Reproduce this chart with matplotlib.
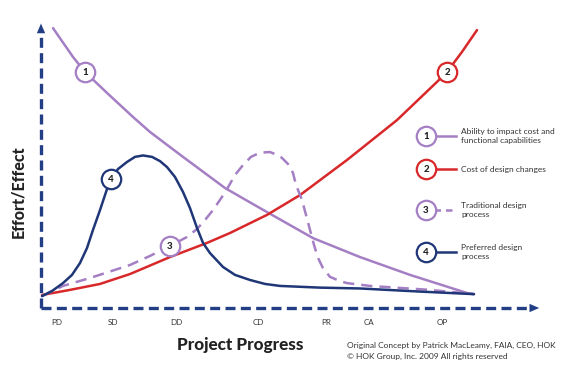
import matplotlib
matplotlib.use("Agg")
import matplotlib.pyplot as plt
from matplotlib.lines import Line2D

# ---------------- data (progress 0-100, effort 0-100) ----------------
phases = ["PD", "SD", "DD", "CD", "PR", "CA", "OP"]
phase_pos = [3.2, 14.4, 27.0, 43.4, 57.0, 65.6, 80.2]

ability_x = [2.4, 6.4, 8.8, 13.2, 18.4, 21.8, 28.4, 36.8, 43.8, 54.4, 63.8, 73.8, 85.2, 86.6]
ability_y = [98.9, 88.7, 83.4, 76.0, 67.5, 62.2, 53.4, 42.4, 35.3, 24.7, 18.0, 11.7, 5.3, 4.9]

cost_x = [0.2, 5.8, 11.8, 17.8, 25.8, 33.2, 37.8, 45.2, 51.8, 61.2, 71.2, 79.2, 81.2, 84.2, 87.2]
cost_y = [4.6, 6.4, 8.5, 12.0, 18.0, 23.0, 26.5, 32.9, 39.9, 52.3, 66.4, 79.9, 83.4, 90.5, 98.2]

trad_x = [0.2, 4.4, 9.8, 17.8, 21.8, 25.8, 29.2, 31.2, 32.8, 34.4, 35.8, 37.2, 38.8, 40.4, 42.0, 43.8,
          45.8, 47.8, 49.4, 50.4, 51.0, 52.2, 53.0, 53.8, 54.6, 55.4, 56.4, 57.8, 59.8, 61.2, 65.8,
          71.8, 77.8, 86.6]
trad_y = [4.2, 7.8, 10.6, 15.2, 18.4, 21.9, 25.1, 27.9, 31.1, 34.6, 38.2, 42.0, 47.0, 50.5, 53.4, 54.9,
          55.1, 53.7, 50.9, 47.7, 43.5, 38.2, 32.9, 27.6, 22.3, 17.7, 14.1, 11.0, 9.5, 8.8, 7.8,
          7.1, 6.4, 4.9]

pref_x = [0.2, 2.2, 4.4, 6.2, 7.8, 9.2, 10.4, 11.8, 12.8, 13.8, 15.4, 17.2, 18.8, 20.4, 22.2, 23.8,
          25.2, 26.8, 28.4, 29.8, 31.2, 32.4, 33.8, 36.4, 38.8, 41.8, 44.8, 47.8, 55.8, 63.8, 75.8, 86.6]
pref_y = [4.2, 6.0, 8.8, 11.7, 15.9, 21.2, 27.6, 34.6, 39.9, 45.2, 49.1, 51.6, 53.4, 53.9, 53.4, 51.9,
          49.8, 46.3, 41.0, 35.3, 28.3, 23.0, 19.4, 14.5, 11.7, 9.9, 8.5, 7.8, 7.2, 6.9, 5.8, 4.9]

marker_labels = ["1", "2", "3", "4"]
marker_x = [8.8, 81.2, 25.8, 14.0]
marker_y = [83.4, 83.4, 22.0, 45.6]

legend_texts = ["Ability to impact cost and\nfunctional capabilities",
                "Cost of design changes",
                "Traditional design\nprocess",
                "Preferred design\nprocess"]

# ---------------- style ----------------
PURPLE = "#a57fc4"
RED = "#d8282a"
BLUE = "#1f3677"
AXIS = "#223f86"
colors = [PURPLE, RED, PURPLE, BLUE]
styles = ["-", "-", (0, (4.5, 2.8)), "-"]
FONT = "Lato"

W, H = 575, 373
fig = plt.figure(figsize=(W / 100, H / 100), dpi=100)
fig.patch.set_facecolor("white")

def fx(px):
    return px / W

def fy(py):
    return 1 - py / H

ax = fig.add_axes([fx(41), fy(308), 500 / W, 283 / H])
ax.set_xlim(0, 100)
ax.set_ylim(0, 100)
ax.axis("off")

# axes (dashed arrows)
dash = (0, (3.0, 1.6))
ax.plot([0, 0], [0, 98.5], color=AXIS, lw=2.4, ls=dash, clip_on=False, solid_capstyle="butt")
ax.plot([0, 97.8], [0, 0], color=AXIS, lw=2.4, ls=dash, clip_on=False, solid_capstyle="butt")
ax.annotate("", xy=(0, 101.5), xytext=(0, 96), xycoords="data",
            arrowprops=dict(arrowstyle="-|>,head_length=0.7,head_width=0.3", color=AXIS, lw=0),
            annotation_clip=False)
ax.annotate("", xy=(100.2, 0), xytext=(96, 0), xycoords="data",
            arrowprops=dict(arrowstyle="-|>,head_length=0.7,head_width=0.3", color=AXIS, lw=0),
            annotation_clip=False)

# curves
series = [(ability_x, ability_y), (cost_x, cost_y), (trad_x, trad_y), (pref_x, pref_y)]
for (xs, ys), c, s in zip(series, colors, styles):
    ax.plot(xs, ys, color=c, lw=1.8, ls=s, clip_on=False, solid_joinstyle="round",
            solid_capstyle="round", dash_joinstyle="round")

# numbered circles on curves
for lab, x, y, c in zip(marker_labels, marker_x, marker_y, colors):
    ax.plot([x], [y], marker="o", ms=14, mfc="white", mec=c, mew=1.6, clip_on=False, zorder=5)
    ax.text(x, y - 0.3, lab, ha="center", va="center", fontsize=7, fontweight="black",
            family=FONT, color="#222222", zorder=6)

# phase labels
for lab, x in zip(phases, phase_pos):
    ax.text(x, -5.2, lab, ha="center", va="center", fontsize=5.8, family=FONT, color="#333333")

# legend
leg_y = [136, 169, 210, 252]
for i, (py, c, t) in enumerate(zip(leg_y, colors, legend_texts)):
    fig.add_artist(Line2D([fx(434), fx(456)], [fy(py), fy(py)], color=c, lw=1.8,
                          ls=(0, (2.6, 2.0)) if i == 2 else "-"))
    fig.add_artist(Line2D([fx(426)], [fy(py)], marker="o", ms=14, mfc="white", mec=c, mew=1.6))
    fig.text(fx(426), fy(py + 0.5), marker_labels[i], ha="center", va="center", fontsize=7,
             fontweight="black", family=FONT, color="#222222")
    fig.text(fx(461), fy(py), t, ha="left", va="center", fontsize=6.0, family=FONT,
             color="#333333", linespacing=1.25)

# axis titles
fig.text(fx(18), fy(192), "Effort/Effect", rotation=90, ha="center", va="center",
         fontsize=11.5, fontweight="black", family=FONT, color="#222222")
fig.text(fx(240), fy(345), "Project Progress", ha="center", va="center",
         fontsize=12.3, fontweight="black", family=FONT, color="#222222")

# credits
fig.text(fx(347), fy(345), "Original Concept by Patrick MacLeamy, FAIA, CEO, HOK",
         ha="left", va="center", fontsize=6.0, family=FONT, color="#333333")
fig.text(fx(347), fy(356), "\u00a9 HOK Group, Inc. 2009 All rights reserved",
         ha="left", va="center", fontsize=6.0, family=FONT, color="#333333")

fig.savefig("out.png", dpi=100, facecolor="white")
